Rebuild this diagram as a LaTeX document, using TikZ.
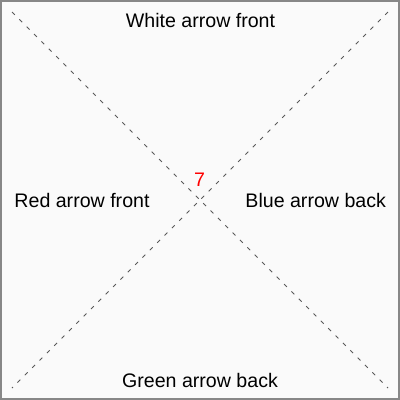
\documentclass[tikz,border=0pt]{standalone}
\usepackage{fontspec}
\setmainfont{Liberation Sans}
\usetikzlibrary{positioning}

\begin{document}
\begin{tikzpicture}[x=1pt, y=-1pt,
    label/.style={anchor=base, inner sep=0pt, font=\fontsize{19.6}{22}\selectfont},
    diag/.style={draw=black!65, line width=0.9pt, dash pattern=on 4pt off 6.4pt}]
  \useasboundingbox (0,0) rectangle (400,400);
  % Frame
  \fill[black!2] (0,0) rectangle (400,400);
  \draw[black!47, line width=2pt] (1,1) rectangle (398.5,398.5);

  % Diagonals
  \coordinate (nw) at (12,12);
  \coordinate (ne) at (388,12);
  \coordinate (sw) at (12,388);
  \coordinate (se) at (388,388);
  \draw[diag] (nw) -- (se);
  \draw[diag] (ne) -- (sw);

  % Faces
  \node[label] (top) at (200.5, 27.3) {White arrow front};
  \node[label] (left) at (82, 207.3) {Red arrow front};
  \node[label] (right) at (315.7, 207.3) {Blue arrow back};
  \node[label] (bottom) at (200, 387.3) {Green arrow back};
  \node[label, red] (count) at (199.7, 186) {7};
\end{tikzpicture}
\end{document}
